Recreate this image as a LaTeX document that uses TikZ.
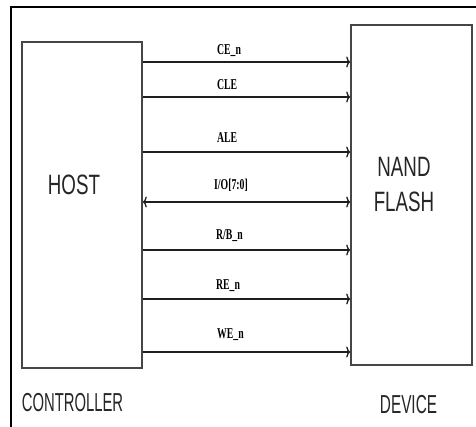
\documentclass[tikz,border=0pt]{standalone}
\usepackage{fontspec}
\usepackage{graphicx}
\setmainfont{Liberation Serif}
\setsansfont{Liberation Sans}
\usetikzlibrary{arrows.meta}
\definecolor{trazo}{RGB}{70,70,70}
\definecolor{linea}{RGB}{30,30,30}
\newcommand{\apretado}[2]{\scalebox{#1}[1]{#2}}
\tikzset{
  bloque/.style={draw=trazo, line width=1.6pt, inner sep=0pt, fill=white},
  rotulo/.style={inner sep=0pt, text=black!85, align=center},
  senal/.style={inner sep=0pt, anchor=base west, font=\bfseries\fontsize{15}{17}\selectfont},
  fl/.style={-{To[length=4pt,width=11pt]}, line width=1.3pt, linea},
  flb/.style={{To[length=4pt,width=11pt]}-{To[length=4pt,width=11pt]}, line width=1.3pt, linea},
}

\begin{document}
\begin{tikzpicture}[x=1pt,y=-1pt]
  \useasboundingbox (0,0) rectangle (476,427);
  % marco
  \draw[line width=2.5pt, black, line cap=rect] (11,427) -- (11,7) -- (476,7);
  % bloques
  \node[bloque, minimum width=120pt, minimum height=326pt] (host) at (82,205) {};
  \node[bloque, minimum width=121pt, minimum height=340pt] (nand) at (411.5,195) {};
  \node[rotulo, anchor=base, font=\sffamily\fontsize{28}{30}\selectfont] (hostt) at (74,195) {\apretado{0.67}{HOST}};
  \node[rotulo, font=\sffamily\fontsize{28}{35}\selectfont] (nandt) at (404,184.5) {\apretado{0.67}{NAND}\\ \apretado{0.67}{FLASH}};
  \node[rotulo, anchor=base, font=\sffamily\fontsize{26}{28}\selectfont] (ctrl) at (72.5,411) {\apretado{0.57}{CONTROLLER}};
  \node[rotulo, anchor=base, font=\sffamily\fontsize{26}{28}\selectfont] (dev) at (408.5,413) {\apretado{0.59}{DEVICE}};
  % senales
  \coordinate (c1) at (0,62);  \coordinate (c2) at (0,97);
  \coordinate (c3) at (0,152); \coordinate (c4) at (0,202);
  \coordinate (c5) at (0,250); \coordinate (c6) at (0,299);
  \coordinate (c7) at (0,352);
  \draw[fl] (host.east |- c1) -- (nand.west |- c1);
  \draw[fl] (host.east |- c2) -- (nand.west |- c2);
  \draw[fl] (host.east |- c3) -- (nand.west |- c3);
  \draw[flb] (host.east |- c4) -- (nand.west |- c4);
  \draw[fl] (host.east |- c5) -- (nand.west |- c5);
  \draw[fl] (host.east |- c6) -- (nand.west |- c6);
  \draw[fl] (host.east |- c7) -- (nand.west |- c7);
  \node[senal] (s1) at (217,55)  {\apretado{0.65}{CE\_n}};
  \node[senal] (s2) at (217,90)  {\apretado{0.65}{CLE}};
  \node[senal] (s3) at (217,143) {\apretado{0.65}{ALE}};
  \node[senal] (s4) at (214,190) {\apretado{0.65}{I/O[7:0]}};
  \node[senal] (s5) at (216,240) {\apretado{0.65}{R/B\_n}};
  \node[senal] (s6) at (216,290) {\apretado{0.65}{RE\_n}};
  \node[senal] (s7) at (217,338) {\apretado{0.65}{WE\_n}};
\end{tikzpicture}
\end{document}
